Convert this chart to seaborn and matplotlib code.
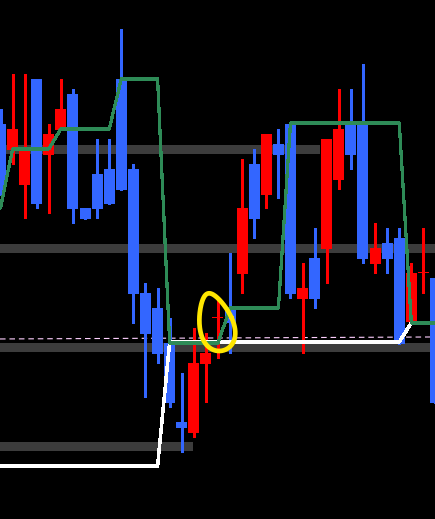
import numpy as np
import pandas as pd
import matplotlib
matplotlib.use("Agg")
import matplotlib.pyplot as plt
import seaborn as sns

# OHLC data per bar (blue = down bar, red = up bar)
opens = [1.1395, 1.1369, 1.1334, 1.1440, 1.1364, 1.1389, 1.1425, 1.1311, 1.1345, 1.1350,
         1.1440, 1.1350, 1.1226, 1.1211, 1.1176, 1.1097, 1.1086, 1.1155, 1.1201, 1.1211,
         1.1245, 1.1355, 1.1324, 1.1375, 1.1395, 1.1220, 1.1261, 1.1270, 1.1339, 1.1395,
         1.1395, 1.1255, 1.1276, 1.1281, 1.1197, 1.1246, 1.1241]
highs = [1.1410, 1.1445, 1.1445, 1.1440, 1.1395, 1.1440, 1.1430, 1.1311, 1.1380, 1.1380,
         1.1490, 1.1355, 1.1236, 1.1231, 1.1201, 1.1146, 1.1191, 1.1186, 1.1221, 1.1266,
         1.1360, 1.1370, 1.1385, 1.1390, 1.1395, 1.1256, 1.1291, 1.1380, 1.1430, 1.1430,
         1.1455, 1.1296, 1.1291, 1.1291, 1.1256, 1.1291, 1.1241]
lows = [1.1324, 1.1355, 1.1301, 1.1311, 1.1306, 1.1389, 1.1296, 1.1300, 1.1301, 1.1315,
        1.1329, 1.1196, 1.1122, 1.1156, 1.1112, 1.1067, 1.1082, 1.1117, 1.1161, 1.1166,
        1.1226, 1.1281, 1.1311, 1.1321, 1.1221, 1.1166, 1.1211, 1.1236, 1.1330, 1.1350,
        1.1256, 1.1246, 1.1246, 1.1175, 1.1197, 1.1226, 1.1116]
closes = [1.1329, 1.1390, 1.1369, 1.1315, 1.1385, 1.1410, 1.1310, 1.1300, 1.1310, 1.1315,
          1.1329, 1.1225, 1.1185, 1.1165, 1.1116, 1.1091, 1.1156, 1.1166, 1.1201, 1.1196,
          1.1311, 1.1300, 1.1385, 1.1364, 1.1225, 1.1231, 1.1220, 1.1380, 1.1390, 1.1364,
          1.1260, 1.1271, 1.1260, 1.1175, 1.1246, 1.1246, 1.1116]

# trailing stop lines
green_stop = [1.1311, 1.1370, 1.1370, 1.1370, 1.1370, 1.1390, 1.1390, 1.1390, 1.1390, 1.1390,
              1.1440, 1.1440, 1.1440, 1.1440, 1.1176, 1.1176, 1.1176, 1.1176, 1.1176, 1.1211,
              1.1211, 1.1211, 1.1211, 1.1211, 1.1396, 1.1396, 1.1396, 1.1396, 1.1396, 1.1396,
              1.1396, 1.1396, 1.1396, 1.1396, 1.1196, 1.1196, 1.1196]
white_stop = [1.1053] * 14 + [1.1177] * 20 + [1.1196] * 3

# support / resistance zones: (price, last bar index it reaches)
zone_prices = [1.13695, 1.12705, 1.1171, 1.1072]
zone_ends = [26.45, 36.5, 36.5, 15.94]
dashed_level = [1.1180, 1.1182]

df = pd.DataFrame({"bar": np.arange(len(opens)), "open": opens, "high": highs,
                   "low": lows, "close": closes, "green": green_stop, "white": white_stop})
df["up"] = df["close"] >= df["open"]
df["color"] = np.where(df["up"], "#ff0000", "#3366ff")

sns.set_style("dark", {"axes.facecolor": "black", "figure.facecolor": "black"})

fig = plt.figure(figsize=(4.351, 5.191), dpi=100)
ax = fig.add_axes([0, 0, 1, 1])
ax.set_facecolor("black")

x_left, x_right = -0.5 / 12.08, 434.5 / 12.08

# gray zones
for price, end in zip(zone_prices, zone_ends):
    ax.fill_between([x_left - 1, end], price - 0.00045, price + 0.00045,
                    color="#3c3c3c", lw=0, zorder=1)

# dashed line
ax.plot([x_left, x_right], dashed_level, color="#ffd0ff", lw=0.8,
        dashes=(5, 3.5), zorder=2)

# candles
ax.vlines(df["bar"], df["low"], df["high"], colors=df["color"], lw=1.0,
          antialiased=False, zorder=3)
body_bottom = np.minimum(df["open"], df["close"])
body_h = np.maximum((df["close"] - df["open"]).abs(), 0.0001)
ax.bar(df["bar"], body_h, bottom=body_bottom, width=0.91, color=df["color"],
       linewidth=0, zorder=3)

# stop lines
sns.lineplot(data=df, x="bar", y="white", color="white", lw=1.8, ax=ax,
             antialiased=False, zorder=4)
sns.lineplot(data=df, x="bar", y="green", color="#2e8b57", lw=1.6, ax=ax,
             antialiased=False, zorder=5)

# hand drawn yellow loop around bar 18
t = np.linspace(0, 2 * np.pi, 200)
rx, ry = 16.5, 29.5
ex = rx * np.cos(t) * (1 + 0.3 * np.sin(t))
ey = ry * np.sin(t)
th = np.deg2rad(-15)
dx = ex * np.cos(th) - ey * np.sin(th)
dy = ex * np.sin(th) + ey * np.cos(th)
cx, cy = 17.8, 1.1197
ax.plot(cx + dx / 12.08, cy - dy * 0.0001, color="#ffe600", lw=3.4,
        solid_capstyle="round", zorder=6)

ax.set_xlim(x_left, x_right)
ax.set_ylim(1.1000, 1.1519)
ax.axis("off")

fig.savefig("out.png", dpi=100, facecolor="black")
